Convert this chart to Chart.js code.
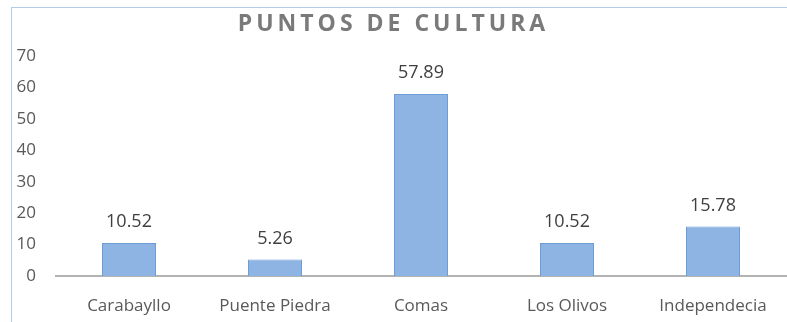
<!DOCTYPE html>
<html>
<head>
<meta charset="utf-8">
<script src="https://cdn.jsdelivr.net/npm/chart.js@4/dist/chart.umd.min.js"></script>
<style>
    html, body { margin: 0; padding: 0; background: #fff; }
    #wrap { position: relative; width: 787px; height: 322px; overflow: hidden; }
    #frame {
        position: absolute; left: 11px; top: 7px; width: 800px; height: 340px;
        border-left: 1px solid #b4cce8; border-top: 1px solid #b4cce8;
    }
    #title {
        position: absolute; left: 0; width: 787px; top: 6px; text-align: center;
        font-family: "Open Sans", sans-serif; font-weight: bold; font-size: 23px;
        letter-spacing: 4px; color: #7a7a7a;
    }
    canvas { position: absolute; left: 0; top: 0; }
</style>
</head>
<body>
<div id="wrap">
    <div id="frame"></div>
    <canvas id="chart" width="787" height="322"></canvas>
    <div id="title">PUNTOS DE CULTURA</div>
</div>
<script>
// datos del gráfico
const categorias = ['Carabayllo', 'Puente Piedra', 'Comas', 'Los Olivos', 'Independecia'];
const valores = [10.52, 5.26, 57.89, 10.52, 15.78];
const ejeY = [0, 10, 20, 30, 40, 50, 60, 70];

const labelFont = '"Open Sans", sans-serif';

// etiquetas de valor encima de cada barra
const etiquetasPlugin = {
    id: 'etiquetas',
    afterDatasetsDraw(chart) {
        const ctx = chart.ctx;
        const meta = chart.getDatasetMeta(0);
        ctx.save();
        ctx.font = '18px ' + labelFont;
        ctx.fillStyle = '#404040';
        ctx.textAlign = 'center';
        ctx.textBaseline = 'middle';
        meta.data.forEach((bar, i) => {
            ctx.fillText(valores[i].toFixed(2), bar.x, bar.y - 21);
        });
        ctx.restore();
    }
};

new Chart(document.getElementById('chart'), {
    type: 'bar',
    data: {
        labels: categorias,
        datasets: [{
            data: valores,
            backgroundColor: (c) => {
                const bar = c.element;
                if (!bar || bar.width === undefined) return '#8db4e2';
                const g = c.chart.ctx.createLinearGradient(bar.x - bar.width / 2, 0, bar.x + bar.width / 2, 0);
                g.addColorStop(0, '#6f9fd8');
                g.addColorStop(0.15, '#93b9e6');
                g.addColorStop(0.85, '#93b9e6');
                g.addColorStop(1, '#6f9fd8');
                return g;
            },
            borderColor: '#6d9dd6',
            borderWidth: 1,
            categoryPercentage: 1,
            barPercentage: 0.37
        }]
    },
    options: {
        responsive: false,
        animation: false,
        layout: { padding: { top: 56, right: 1, left: 0, bottom: 0 } },
        plugins: {
            legend: { display: false },
            tooltip: { enabled: false }
        },
        scales: {
            x: {
                grid: { display: false },
                border: { display: true, color: '#b3b3b3', width: 2 },
                ticks: { color: '#595959', font: { family: labelFont, size: 17 }, padding: 12 },
                afterFit: (s) => { s.height = 46; }
            },
            y: {
                min: 0,
                max: 70,
                afterBuildTicks: (s) => { s.ticks = ejeY.map(v => ({ value: v })); },
                grid: { display: false },
                border: { display: false },
                ticks: { color: '#595959', font: { family: labelFont, size: 17 }, padding: 12 },
                afterFit: (s) => { s.width = 56; }
            }
        }
    },
    plugins: [etiquetasPlugin]
});
</script>
</body>
</html>
